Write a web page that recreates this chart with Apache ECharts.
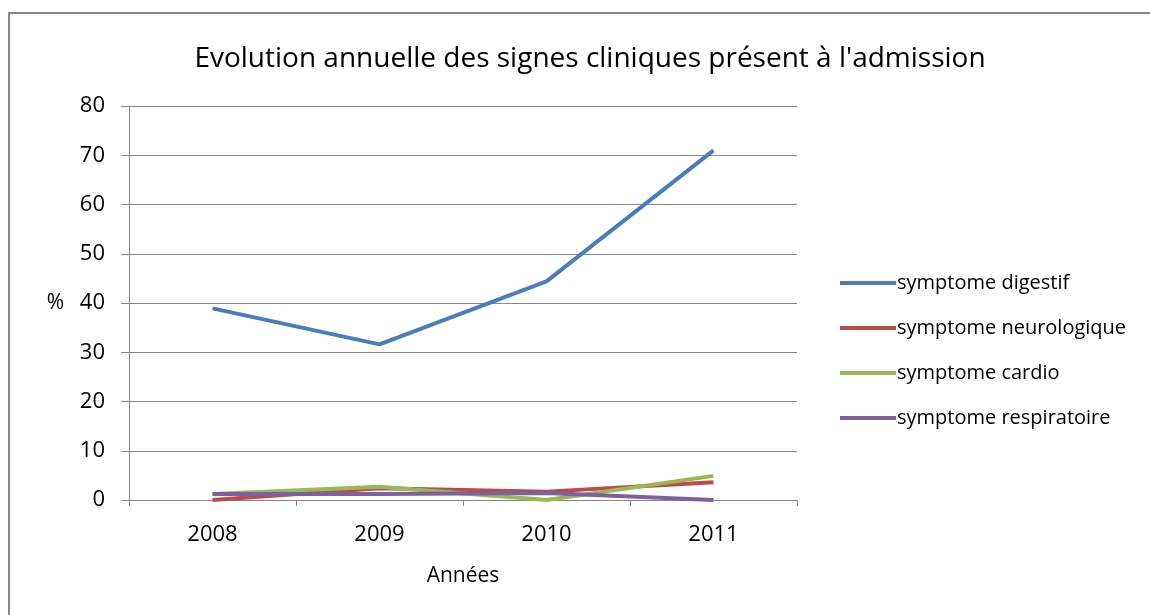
<!DOCTYPE html>
<html>
<head>
<meta charset="utf-8">
<script src="https://cdn.jsdelivr.net/npm/echarts@6/dist/echarts.min.js"></script>
<style>
  html, body { margin: 0; padding: 0; background: #fff; }
  #frame { position: absolute; left: 8px; top: 12px; width: 1142px; height: 603px;
           border-left: 2px solid #868686; border-top: 2px solid #868686; }
  #chart { position: absolute; left: 0; top: 0; width: 1150px; height: 615px; }
</style>
</head>
<body>
<div id="frame"></div>
<div id="chart"></div>
<script>
// années
const years = ['2008', '2009', '2010', '2011']

// pourcentages
const digestif = [38.9, 31.6, 44.4, 71.0]
const neurologique = [0, 2.4, 1.7, 3.6]
const cardio = [1.2, 2.7, 0, 4.9]
const respiratoire = [1.2, 1.2, 1.4, 0]

const seriesNames = ['symptome digestif', 'symptome neurologique', 'symptome cardio', 'symptome respiratoire']
const seriesColors = ['#4A7EBB', '#BE4B48', '#98B954', '#7D60A0']
const seriesData = [digestif, neurologique, cardio, respiratoire]

const font = 'Open Sans'
const chart = echarts.init(document.getElementById('chart'))

chart.setOption({
  animation: false,
  title: {
    text: "Evolution annuelle des signes cliniques présent à l'admission",
    left: 585, textAlign: 'center', top: 40,
    textStyle: { fontFamily: font, fontSize: 28, fontWeight: 'normal', color: '#000' }
  },
  legend: {
    orient: 'vertical', left: 835, top: 268,
    itemWidth: 56, itemHeight: 4, itemGap: 25,
    icon: 'rect',
    textStyle: { fontFamily: font, fontSize: 20, color: '#000', padding: [0, 0, 0, -4] },
    data: seriesNames
  },
  grid: { left: 129, right: 353, top: 106, bottom: 115 },
  xAxis: {
    type: 'category', data: years, boundaryGap: true,
    name: 'Années', nameLocation: 'middle', nameGap: 66,
    nameTextStyle: { fontFamily: font, fontSize: 21, color: '#000' },
    axisLine: { lineStyle: { color: '#868686', width: 1 } },
    axisTick: { show: true, length: 6, lineStyle: { color: '#868686' } },
    axisLabel: { fontFamily: font, fontSize: 22, color: '#000', margin: 24 }
  },
  yAxis: {
    type: 'value', min: 0, max: 80, interval: 10,
    name: '%', nameLocation: 'middle', nameGap: 65, nameRotate: 0,
    nameTextStyle: { fontFamily: font, fontSize: 21, color: '#000' },
    axisLine: { show: true, lineStyle: { color: '#868686', width: 1 } },
    axisTick: { show: true, length: 8, lineStyle: { color: '#868686' } },
    axisLabel: { fontFamily: font, fontSize: 22, color: '#000', margin: 24 },
    splitLine: { lineStyle: { color: '#868686', width: 1 } }
  },
  series: seriesData.map((d, i) => ({
    name: seriesNames[i], type: 'line', data: d,
    symbol: 'none', smooth: false,
    color: seriesColors[i],
    lineStyle: { width: 4, color: seriesColors[i] }
  }))
})
</script>
</body>
</html>
